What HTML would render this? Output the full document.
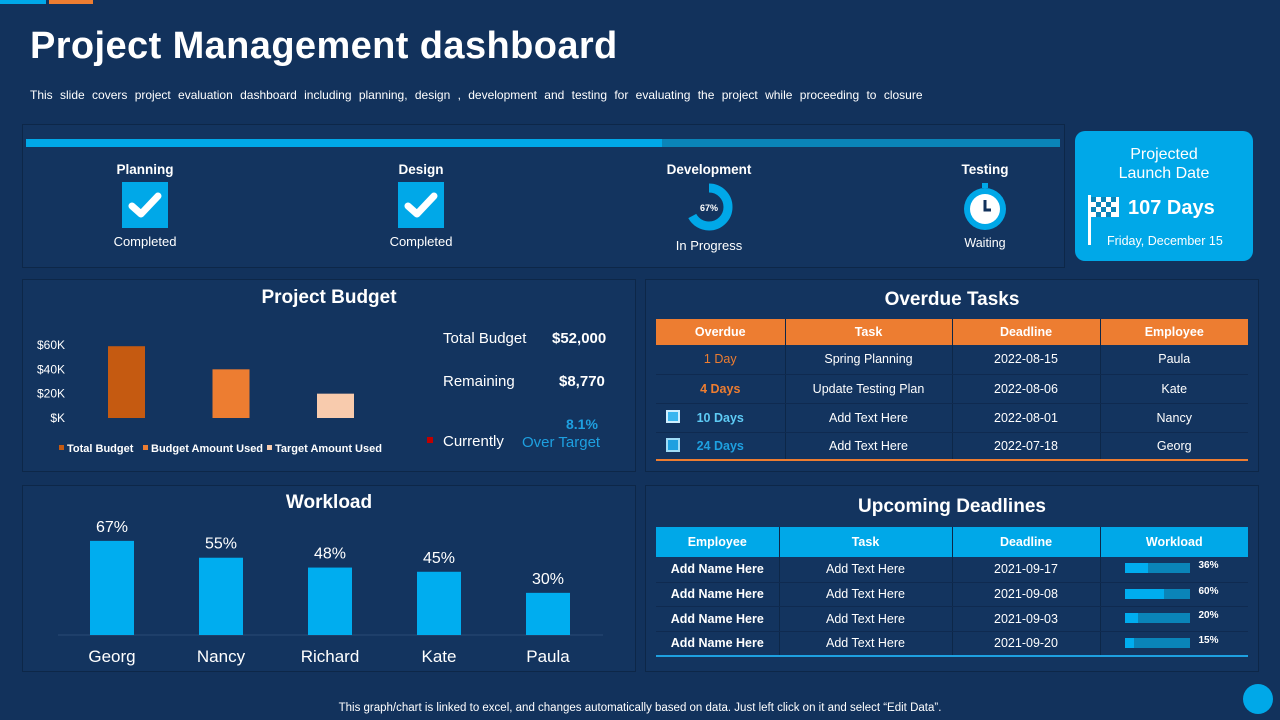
<!DOCTYPE html>
<html><head><meta charset="utf-8">
<style>
*{margin:0;padding:0;box-sizing:border-box}
body{width:1280px;height:720px;background:#12325c;font-family:"Liberation Sans",sans-serif;color:#fff;position:relative;overflow:hidden}
.a{position:absolute}
.panel{position:absolute;border:1px solid #0d2748;background:#13345f}
.ptitle{position:absolute;width:100%;text-align:center;font-weight:bold;font-size:19px}
table{border-collapse:collapse;position:absolute;font-size:12.5px;table-layout:fixed}
td,th{text-align:center;border-right:1px solid #0d2748}
td:last-child,th:last-child{border-right:none}
tr.r td{border-bottom:1px solid #0f2a50}
.stage{position:absolute;width:120px;text-align:center;font-size:13px}
.stage b{display:block;font-size:13.5px;margin-bottom:5px}
</style></head><body>
<div class="a" style="left:0;top:0;width:46px;height:4px;background:#00a8e8"></div>
<div class="a" style="left:49px;top:0;width:44px;height:4px;background:#ed7d31"></div>
<div class="a" style="left:30px;top:25px;font-size:38px;font-weight:bold;letter-spacing:0.4px">Project Management dashboard</div>
<div class="a" style="left:30px;top:88px;font-size:12px;word-spacing:4px">This slide covers project evaluation dashboard including planning, design , development and testing for evaluating the project while proceeding to closure</div>

<div class="panel" style="left:22px;top:124px;width:1043px;height:144px">
  <div class="a" style="left:3px;top:14px;width:1034px;height:8px;background:#0a84b8"></div>
  <div class="a" style="left:3px;top:14px;width:636px;height:8px;background:#00a8e8"></div>
  <div class="stage" style="left:62px;top:37px"><b>Planning</b>
    <div style="margin:0 auto;width:46px;height:46px;background:#00a8e8;position:relative"><svg width="46" height="46"><path d="M10 24 L19 32 L36 14" stroke="#fff" stroke-width="7" fill="none" stroke-linecap="round" stroke-linejoin="round"/></svg></div>
    <div style="margin-top:6px">Completed</div></div>
  <div class="stage" style="left:338px;top:37px"><b>Design</b>
    <div style="margin:0 auto;width:46px;height:46px;background:#00a8e8"><svg width="46" height="46"><path d="M10 24 L19 32 L36 14" stroke="#fff" stroke-width="7" fill="none" stroke-linecap="round" stroke-linejoin="round"/></svg></div>
    <div style="margin-top:6px">Completed</div></div>
  <div class="stage" style="left:626px;top:37px"><b>Development</b>
    <svg width="50" height="50" style="display:block;margin:0 auto"><circle cx="25" cy="25" r="19" fill="none" stroke="#00a8e8" stroke-width="9" stroke-dasharray="80 120" transform="rotate(-90 25 25)"/><text x="25" y="29" font-size="9" font-weight="bold" text-anchor="middle" fill="#fff">67%</text></svg>
    <div style="margin-top:6px">In Progress</div></div>
  <div class="stage" style="left:902px;top:37px"><b>Testing</b>
    <svg width="50" height="50" style="display:block;margin:0 auto"><rect x="22" y="1" width="6" height="5" fill="#00a8e8"/><circle cx="25" cy="27" r="21" fill="#00a8e8"/><circle cx="25" cy="27" r="15" fill="#fff"/><path d="M25 18 V28 H31" stroke="#12325c" stroke-width="3" fill="none"/></svg>
    <div style="margin-top:4px;font-size:12.5px">Waiting</div></div>
</div>

<div class="a" style="left:1075px;top:131px;width:178px;height:130px;background:#00a8e8;border-radius:10px;text-align:center">
  <div style="margin-top:14px;font-size:16px;line-height:19px">Projected<br>Launch Date</div>
  <svg class="a" style="left:11px;top:64px" width="36" height="52"><rect x="2" y="0" width="3" height="50" fill="#fff"/><rect x="5" y="2" width="28" height="20" fill="#fff"/><g fill="#0a84b8"><rect x="5" y="2" width="5" height="5"/><rect x="15" y="2" width="5" height="5"/><rect x="25" y="2" width="5" height="5"/><rect x="10" y="7" width="5" height="5"/><rect x="20" y="7" width="5" height="5"/><rect x="5" y="12" width="5" height="5"/><rect x="15" y="12" width="5" height="5"/><rect x="25" y="12" width="5" height="5"/><rect x="10" y="17" width="5" height="5"/><rect x="20" y="17" width="5" height="5"/></g></svg>
  <div class="a" style="left:53px;top:66px;font-size:20px;font-weight:bold">107 Days</div>
  <div class="a" style="left:32px;top:103px;font-size:12.5px">Friday, December 15</div>
</div>

<div class="panel" style="left:22px;top:279px;width:614px;height:193px">
  <div class="ptitle" style="top:7px;left:0">Project Budget</div>
  <svg id="budgetChart" class="a" style="left:0;top:0" width="400" height="193"></svg>
  <div class="a" style="left:420px;top:50px;font-size:15px">Total Budget</div>
  <div class="a" style="left:529px;top:50px;font-size:15px;font-weight:bold">$52,000</div>
  <div class="a" style="left:420px;top:93px;font-size:15px">Remaining</div>
  <div class="a" style="left:536px;top:93px;font-size:15px;font-weight:bold">$8,770</div>
  <div class="a" style="left:543px;top:136px;font-size:14px;font-weight:bold;color:#1ea0e0">8.1%</div>
  <div class="a" style="left:404px;top:157px;width:6px;height:6px;background:#c00000"></div>
  <div class="a" style="left:420px;top:153px;font-size:15px">Currently</div>
  <div class="a" style="left:499px;top:154px;font-size:15px;color:#1ea0e0">Over Target</div>
</div>

<div class="panel" style="left:645px;top:279px;width:614px;height:193px">
  <div class="ptitle" style="top:9px">Overdue Tasks</div>
</div>
<table style="left:656px;top:319px;width:592px">
<colgroup><col style="width:129px"><col style="width:167px"><col style="width:148px"><col style="width:148px"></colgroup>
<tr style="background:#ed7d31;height:26px;font-size:12.5px"><th>Overdue</th><th>Task</th><th>Deadline</th><th>Employee</th></tr>
<tr class="r" style="height:29px"><td style="color:#ed7d31">1 Day</td><td>Spring Planning</td><td>2022-08-15</td><td>Paula</td></tr>
<tr class="r" style="height:29px"><td style="color:#ed7d31;font-weight:bold">4 Days</td><td>Update Testing Plan</td><td>2022-08-06</td><td>Kate</td></tr>
<tr class="r" style="height:29px"><td style="color:#5ecbf5;font-weight:bold;position:relative"><span style="position:absolute;left:10px;top:6px;width:14px;height:13px;border:2px solid #cfefff;background:#3ab6ef"></span>10 Days</td><td>Add Text Here</td><td>2022-08-01</td><td>Nancy</td></tr>
<tr style="height:28px;border-bottom:2px solid #ed7d31"><td style="color:#1ea0e0;font-weight:bold;position:relative"><span style="position:absolute;left:10px;top:5px;width:14px;height:14px;border:2px solid #9fdcf7;background:#1ea0e0"></span>24 Days</td><td>Add Text Here</td><td>2022-07-18</td><td>Georg</td></tr>
</table>

<div class="panel" style="left:22px;top:485px;width:614px;height:187px">
  <div class="ptitle" style="top:6px">Workload</div>
  <svg id="workChart" class="a" style="left:0;top:0" width="614" height="187"></svg>
</div>

<div class="panel" style="left:645px;top:485px;width:614px;height:187px">
  <div class="ptitle" style="top:10px">Upcoming Deadlines</div>
</div>
<table id="upTable" style="left:656px;top:527px;width:592px">
<colgroup><col style="width:123px"><col style="width:173px"><col style="width:148px"><col style="width:148px"></colgroup>
<tr style="background:#00a8e8;height:30px"><th>Employee</th><th>Task</th><th>Deadline</th><th>Workload</th></tr>
</table>

<div class="a" style="left:0;width:1280px;top:702px;text-align:center;font-size:11.5px">This graph/chart is linked to excel, and changes automatically based on data. Just left click on it and select “Edit Data”.</div>
<div class="a" style="left:1243px;top:684px;width:30px;height:30px;border-radius:50%;background:#00a8e8"></div>

<script>
const NS="http://www.w3.org/2000/svg";
const budgetCats=["Total Budget","Budget Amount Used","Target Amount Used"];
const budgetVals=[59000,40000,20000];
const budgetTicks=["$K","$20K","$40K","$60K"];
const budgetColors=["#c55a11","#ed7d31","#f8cbad"];
const workNames=["Georg","Nancy","Richard","Kate","Paula"];
const workVals=[67,55,48,45,30];
const upDates=["2021-09-17","2021-09-08","2021-09-03","2021-09-20"];
const upLoads=[36,60,20,15];

function mk(p,tag,at,txt){const e=document.createElementNS(NS,tag);for(const k in at)e.setAttribute(k,at[k]);if(txt!=null)e.textContent=txt;p.appendChild(e);return e;}

const bc=document.getElementById('budgetChart');
const by0=138, byPerK=(138-65)/60000;
const bY=v=>by0-v*byPerK;
budgetTicks.forEach((t,i)=>{const e=mk(bc,'text',{x:42,y:bY(i*20000)+4,'text-anchor':'end','font-size':12,fill:'#fff'},t);

});
const bX=i=>85+i*104.5;
budgetVals.forEach((v,i)=>{const r=mk(bc,'rect',{x:bX(i),y:bY(v),width:37,height:by0-bY(v),fill:budgetColors[i]});

});
let lx=36;
const legW=[84,124,120];
budgetCats.forEach((c,i)=>{mk(bc,'rect',{x:lx,y:165,width:5,height:5,fill:budgetColors[i]});
const t=mk(bc,'text',{x:lx+8,y:172,'font-size':11,'font-weight':'bold',fill:'#fff'},c);


lx+=legW[i];});

const wc=document.getElementById('workChart');
const wy0=149, wPer=1.405;
const wY=v=>wy0-v*wPer;
const wX=i=>67+i*109;
mk(wc,'line',{x1:35,x2:580,y1:wy0,y2:wy0,stroke:'#2a4a75','stroke-width':1});
workVals.forEach((v,i)=>{const r=mk(wc,'rect',{x:wX(i),y:wY(v),width:44,height:v*wPer,fill:'#00adef'});


const t=mk(wc,'text',{x:wX(i)+22,y:wY(v)-9,'text-anchor':'middle','font-size':16,fill:'#fff'},v+'%');


const n=mk(wc,'text',{x:wX(i)+22,y:176,'text-anchor':'middle','font-size':17,fill:'#fff'},workNames[i]);

});

const ut=document.getElementById('upTable');
upDates.forEach((d,i)=>{const tr=document.createElement('tr');


tr.className='r';tr.style.height=(i==0?'25px':'24.5px');
if(i==3){tr.style.borderBottom='2px solid #1ea0e0';}
tr.innerHTML='<td style="font-weight:bold">Add Name Here</td><td>Add Text Here</td><td>'+d+'</td><td style="position:relative"><div style="position:absolute;left:24px;top:6px;width:65px;height:10px;background:#0a84b8"><div style="width:'+upLoads[i]+'%;height:100%;background:#00adef"></div></div><span style="position:absolute;left:98px;top:3px;font-size:10px;font-weight:bold">'+upLoads[i]+'%</span></td>';
ut.appendChild(tr);});
</script>
</body></html>
